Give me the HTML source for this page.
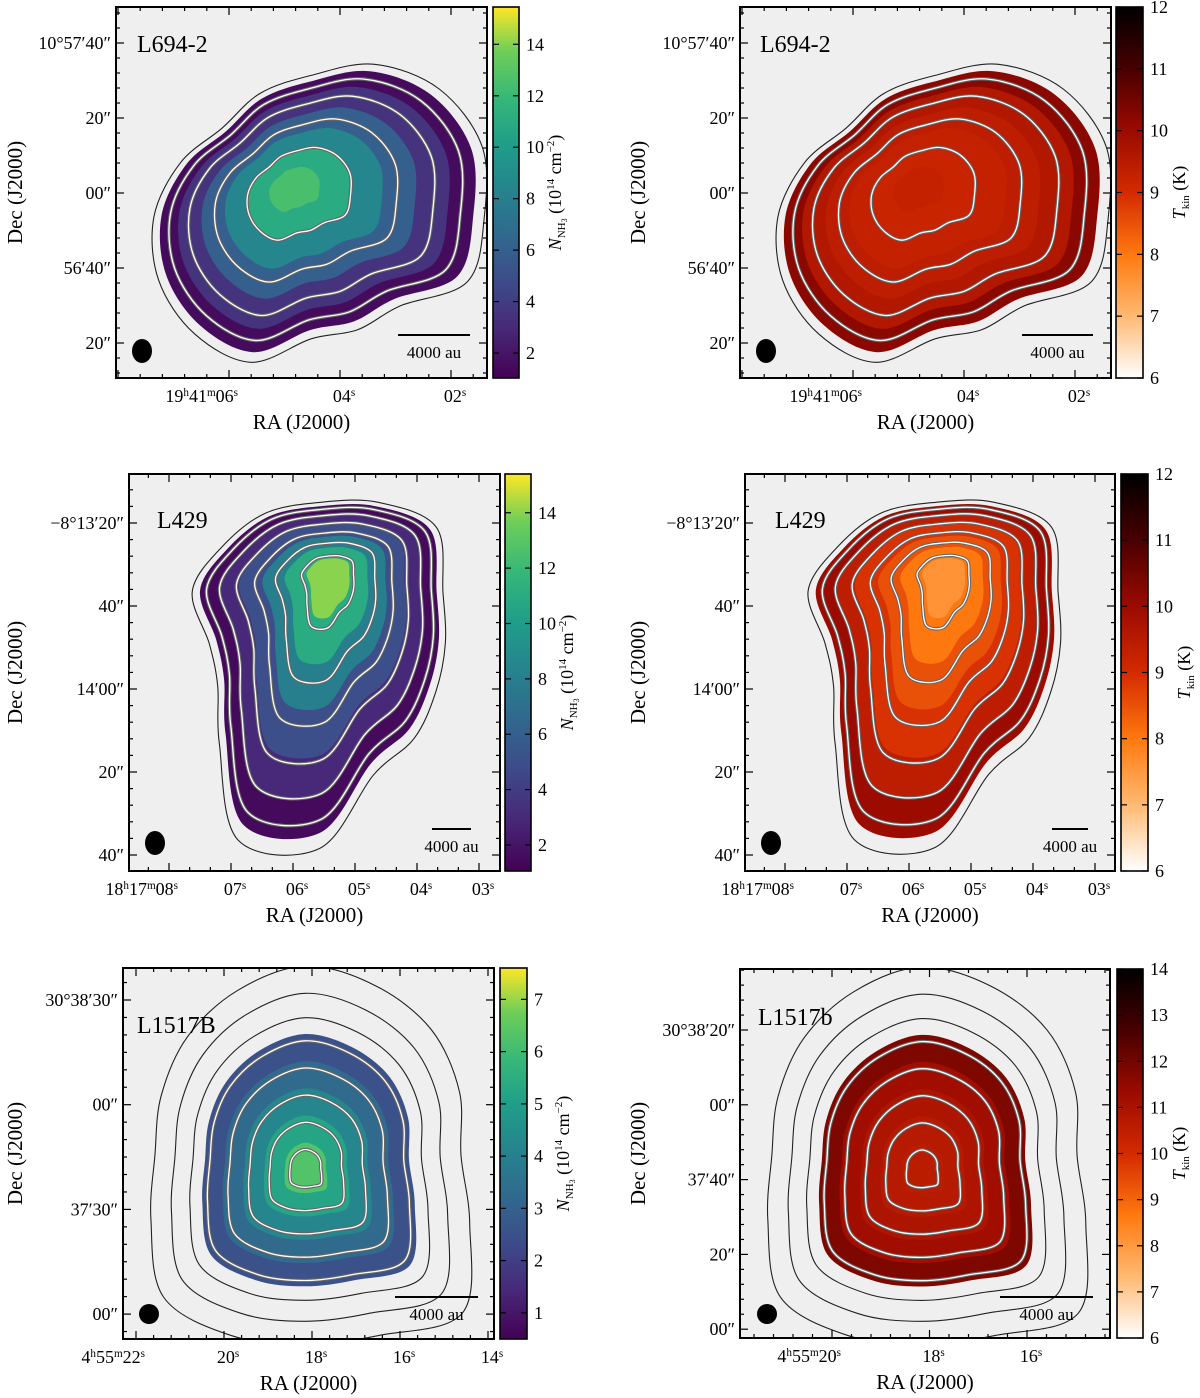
<!DOCTYPE html>
<html><head><meta charset="utf-8"><style>
html,body{margin:0;padding:0;background:#fff;}
svg{display:block;font-family:"Liberation Serif",serif;}
</style></head><body>
<svg id="fig" xmlns="http://www.w3.org/2000/svg" width="1200" height="1398" viewBox="0 0 1200 1398"></svg>
<script>
// ---------- data ----------
const l694Radii = [44,47,46,42,36,34,32,36,40,42,42,40,31,31,32,43];
const l694Center = [52.3,56.1];
const l694Peak = [46.9,48.0];
const l694NValues = [1.5,3.5,6,8.5,11,12.5];
const l694NScales = [1,0.86,0.68,0.5,0.32,0.16];
const l694TValues = [10.2,9.6,9.4,9.3,9.2,9.3];
const l694Contours = [0.93,0.78,0.58,0.33];
const l694Outer = [1.06];

const l429Radii = [32,34,42,39,36,36,35,35,28,28,36,54,52,36,34,32];
const l429Center = [51.5,44.7];
const l429Peak = [54.2,25.9];
const l429NValues = [1.5,3,5,8,11,14];
const l429NScales = [1,0.85,0.7,0.52,0.35,0.18];
const l429TValues = [10,9.4,8.9,8.5,8.0,7.6];
const l429Contours = [0.95,0.85,0.72,0.58,0.42,0.22];
const l429Outer = [1.06];

const l1517Radii = [28,30,32,33,34,32,30,28,27,30,36,35,34,35,40,32];
const l1517Center = [49.1,51.8];
const l1517Peak = [49.1,54.4];
const l1517NValues = [2.5,3.3,4.2,5.2,6.3];
const l1517NScales = [1,0.8,0.6,0.4,0.2];
const l1517TValues = [11.8,11.2,10.9,10.7,10.6];
const l1517Contours = [0.95,0.75,0.55,0.35,0.15];
const l1517Outer = [1.12,1.3,1.5];

const row1DecLabels = ["10°57′40″","20″","00″","56′40″","20″"];
const row1RaLabels = [["19","h","41","m","06","s"],["04","s"],["02","s"]];
const row2DecLabels = ["−8°13′20″","40″","14′00″","20″","40″"];
const row2RaLabels = [["18","h","17","m","08","s"],["07","s"],["06","s"],["05","s"],["04","s"],["03","s"]];
const row3LDecLabels = ["30°38′30″","00″","37′30″","00″"];
const row3LRaLabels = [["4","h","55","m","22","s"],["20","s"],["18","s"],["16","s"],["14","s"]];
const row3RDecLabels = ["30°38′20″","00″","37′40″","20″","00″"];
const row3RRaLabels = [["4","h","55","m","20","s"],["18","s"],["16","s"]];
const nTicks12 = [2,4,6,8,10,12,14];
const nTicks3 = [1,2,3,4,5,6,7];
const tTicks12 = [6,7,8,9,10,11,12];
const tTicks14 = [6,7,8,9,10,11,12,13,14];

// ---------- layout ----------
const panels = [
 {name:'l694-2-column-density',label:'L694-2',fx:116,fy:7,fw:371,fh:371,cbx:493,cbw:26,vmin:1.03,vmax:15.45,cmap:'v',
  radii:l694Radii,center:l694Center,peak:l694Peak,values:l694NValues,scales:l694NScales,cont:l694Contours,outer:l694Outer,
  dec:row1DecLabels,decY0:43,decStep:75,decMinor:5,ra:row1RaLabels,raX0:229,raStep:111,raMinor:5,cbTicks:nTicks12,
  title:[137,52],beam:[142,351,10,12],bar:[398,470,335],cbLabel:'n'},
 {name:'l694-2-kinetic-temperature',label:'L694-2',fx:740,fy:7,fw:371,fh:371,cbx:1116,cbw:27,vmin:6,vmax:12,cmap:'t',
  radii:l694Radii,center:l694Center,peak:l694Peak,values:l694TValues,scales:l694NScales,cont:l694Contours,outer:l694Outer,
  dec:row1DecLabels,decY0:43,decStep:75,decMinor:5,ra:row1RaLabels,raX0:853,raStep:111,raMinor:5,cbTicks:tTicks12,
  title:[760,52],beam:[766,351,10,12],bar:[1022,1093,335],cbLabel:'t'},
 {name:'l429-column-density',label:'L429',fx:129,fy:474,fw:371,fh:397,cbx:505,cbw:26,vmin:1.06,vmax:15.4,cmap:'v',
  radii:l429Radii,center:l429Center,peak:l429Peak,values:l429NValues,scales:l429NScales,cont:l429Contours,outer:l429Outer,
  dec:row2DecLabels,decY0:523,decStep:83,decMinor:5,ra:row2RaLabels,raX0:169,raStep:62,raMinor:3,cbTicks:nTicks12,
  title:[157,528],beam:[155,843,10,12],bar:[432,471,829],cbLabel:'n'},
 {name:'l429-kinetic-temperature',label:'L429',fx:745,fy:474,fw:370,fh:397,cbx:1121,cbw:27,vmin:6,vmax:12,cmap:'t',
  radii:l429Radii,center:l429Center,peak:l429Peak,values:l429TValues,scales:l429NScales,cont:l429Contours,outer:l429Outer,
  dec:row2DecLabels,decY0:523,decStep:83,decMinor:5,ra:row2RaLabels,raX0:785,raStep:62,raMinor:3,cbTicks:tTicks12,
  title:[775,528],beam:[771,843,10,12],bar:[1052,1088,829],cbLabel:'t'},
 {name:'l1517b-column-density',label:'L1517B',fx:123,fy:968,fw:371,fh:371,cbx:500,cbw:27,vmin:0.5,vmax:7.6,cmap:'v',
  radii:l1517Radii,center:l1517Center,peak:l1517Peak,values:l1517NValues,scales:l1517NScales,cont:l1517Contours,outer:l1517Outer,
  dec:row3LDecLabels,decY0:1000,decStep:104.7,decMinor:6,ra:row3LRaLabels,raX0:136,raStep:88,raMinor:5,cbTicks:nTicks3,
  title:[137,1033],beam:[149,1314,10,10],bar:[395,478,1297],cbLabel:'n'},
 {name:'l1517b-kinetic-temperature',label:'L1517b',fx:740,fy:969,fw:370,fh:369,cbx:1117,cbw:26,vmin:6,vmax:14,cmap:'t',
  radii:l1517Radii,center:l1517Center,peak:l1517Peak,values:l1517TValues,scales:l1517NScales,cont:l1517Contours,outer:l1517Outer,
  dec:row3RDecLabels,decY0:1030,decStep:74.8,decMinor:5,ra:row3RRaLabels,raX0:832,raStep:97.5,raMinor:5,cbTicks:tTicks14,
  title:[758,1025],beam:[767,1314,10,10],bar:[1000,1093,1297],cbLabel:'t'}
];

const viridisStops=[[0,'#440154'],[0.13,'#482878'],[0.25,'#3e4989'],[0.38,'#31688e'],[0.5,'#26828e'],[0.63,'#1f9e89'],[0.75,'#35b779'],[0.88,'#6ece58'],[1,'#fde725']];
const heatStops=[[0,'#ffffff'],[0.17,'#ffb870'],[0.33,'#ff7a10'],[0.5,'#d42a00'],[0.67,'#9a0a00'],[0.83,'#4a0000'],[1,'#000000']];
function hex(c){return [parseInt(c.slice(1,3),16),parseInt(c.slice(3,5),16),parseInt(c.slice(5,7),16)];}
function cmap(stops,t){t=Math.max(0,Math.min(1,t));for(let i=1;i<stops.length;i++){if(t<=stops[i][0]){const a=stops[i-1],b=stops[i];const f=(t-a[0])/(b[0]-a[0]);const ca=hex(a[1]),cb=hex(b[1]);return 'rgb('+ca.map((v,k)=>Math.round(v+(cb[k]-v)*f)).join(',')+')';}}return stops[stops.length-1][1];}

const NS='http://www.w3.org/2000/svg';
const svg=document.getElementById('fig');
function el(tag,attrs,parent){const e=document.createElementNS(NS,tag);for(const k in attrs)e.setAttribute(k,attrs[k]);(parent||svg).appendChild(e);return e;}

const defs=el('defs',{});
function gradient(id,stops){const g=el('linearGradient',{id:id,x1:'0',y1:'1',x2:'0',y2:'0'},defs);stops.forEach(s=>el('stop',{offset:s[0],'stop-color':s[1]},g));}
gradient('grad-viridis',viridisStops);gradient('grad-heat',heatStops);

function smoothPath(pts){const n=pts.length;let d='M'+pts[0][0].toFixed(1)+','+pts[0][1].toFixed(1);
 for(let i=0;i<n;i++){const p0=pts[(i-1+n)%n],p1=pts[i],p2=pts[(i+1)%n],p3=pts[(i+2)%n];
  const c1=[p1[0]+(p2[0]-p0[0])/6,p1[1]+(p2[1]-p0[1])/6],c2=[p2[0]-(p3[0]-p1[0])/6,p2[1]-(p3[1]-p1[1])/6];
  d+='C'+c1[0].toFixed(1)+','+c1[1].toFixed(1)+' '+c2[0].toFixed(1)+','+c2[1].toFixed(1)+' '+p2[0].toFixed(1)+','+p2[1].toFixed(1);}
 return d+'Z';}

function supText(parent,x,y,parts,anchor,size){const t=el('text',{x:x,y:y,'text-anchor':anchor,'font-size':size},parent);
 parts.forEach((p,i)=>{const s=el('tspan',{},t);if(i%2===1){s.setAttribute('font-size',size*0.62);s.setAttribute('baseline-shift','super');}s.textContent=p;});return t;}

panels.forEach((P,pi)=>{
 const g=el('g',{});
 
 
 const X=u=>P.fx+u*P.fw/100;
 const Y=v=>P.fy+v*P.fw/100;
 const clipId='clip'+pi;
 const cp=el('clipPath',{id:clipId},defs);el('rect',{x:P.fx,y:P.fy,width:P.fw,height:P.fh},cp);
 const bg=el('rect',{x:P.fx,y:P.fy,width:P.fw,height:P.fh,fill:'#efefef'},g);
 
 
 const mg=el('g',{'clip-path':'url(#'+clipId+')'},g);
 
 
 const norm=v=>(v-P.vmin)/(P.vmax-P.vmin);
 const stops=P.cmap==='v'?viridisStops:heatStops;
 function shape(s){const n=P.radii.length;const cx=P.peak[0]+(P.center[0]-P.peak[0])*s,cy=P.peak[1]+(P.center[1]-P.peak[1])*s;
  const pts=[];for(let i=0;i<n;i++){const a=i/n*2*Math.PI;pts.push([X(cx+Math.cos(a)*P.radii[i]*s),Y(cy-Math.sin(a)*P.radii[i]*s)]);}return smoothPath(pts);}
 P.values.forEach((v,i)=>{const p=el('path',{d:shape(P.scales[i]),fill:cmap(stops,norm(v))},mg);
  
  });
 P.outer.forEach((s,i)=>{const p=el('path',{d:shape(s),fill:'none',stroke:'#222','stroke-width':1.1},mg);
  
  });
 P.cont.forEach((s,i)=>{el('path',{d:shape(s),fill:'none',stroke:'#666','stroke-width':3.4},mg);
  const p=el('path',{d:shape(s),fill:'none',stroke:'#fff','stroke-width':1.3},mg);
  
  });
 const tg=el('g',{stroke:'#000','stroke-width':1.2},g);
 
 
 const bottom=P.fy+P.fh,right=P.fx+P.fw;
 for(let k=-P.decMinor;k<=P.dec.length*P.decMinor+P.decMinor;k++){const y=P.decY0+k*P.decStep/P.decMinor;if(y<=P.fy+1||y>=bottom-1)continue;
  const L=(k%P.decMinor===0)?8:4;el('line',{x1:P.fx,y1:y,x2:P.fx+L,y2:y},tg);el('line',{x1:right,y1:y,x2:right-L,y2:y},tg);}
 for(let k=-3*P.raMinor;k<=(P.ra.length+3)*P.raMinor;k++){const x=P.raX0+k*P.raStep/P.raMinor;if(x<=P.fx+1||x>=right-1)continue;
  const L=(k%P.raMinor===0)?8:4;el('line',{x1:x,y1:bottom,x2:x,y2:bottom-L},tg);el('line',{x1:x,y1:P.fy,x2:x,y2:P.fy+L},tg);}
 P.dec.forEach((lab,i)=>{const t=el('text',{x:P.fx-5,y:P.decY0+i*P.decStep+6,'text-anchor':'end','font-size':18},g);t.textContent=lab;
  
  });
 P.ra.forEach((parts,i)=>{const x=P.raX0+i*P.raStep;const t=parts.length>2?supText(g,x+9,bottom+24,parts,'end',18):supText(g,x+4,bottom+24,parts,'middle',18);
  
  });
 const fr=el('rect',{x:P.fx,y:P.fy,width:P.fw,height:P.fh,fill:'none',stroke:'#000','stroke-width':2},g);
 
 
 const xt=el('text',{x:P.fx+P.fw/2,y:bottom+51,'text-anchor':'middle','font-size':21},g);xt.textContent='RA (J2000)';
 
 
 const ytx=(P.fx<400?22:645),ytc=P.fy+P.fh/2;
 const yt=el('text',{x:ytx,y:ytc,'text-anchor':'middle','font-size':21,transform:'rotate(-90 '+ytx+' '+ytc+')'},g);yt.textContent='Dec (J2000)';
 
 
 const st=el('text',{x:P.title[0],y:P.title[1],'font-size':24},g);st.textContent=P.label;
 
 
 const b=el('ellipse',{cx:P.beam[0],cy:P.beam[1],rx:P.beam[2],ry:P.beam[3],fill:'#000'},g);
 
 
 const sb=el('line',{x1:P.bar[0],y1:P.bar[2],x2:P.bar[1],y2:P.bar[2],stroke:'#000','stroke-width':2},g);
 
 
 const sbt=el('text',{x:(P.bar[0]+P.bar[1])/2,y:P.bar[2]+23,'text-anchor':'middle','font-size':17},g);sbt.textContent='4000 au';
 
 
 const cb=el('rect',{x:P.cbx,y:P.fy,width:P.cbw,height:P.fh,fill:'url(#'+(P.cmap==='v'?'grad-viridis':'grad-heat')+')',stroke:'#000','stroke-width':1.6},g);
 
 
 const cy=v=>P.fy+P.fh-(v-P.vmin)/(P.vmax-P.vmin)*P.fh;
 P.cbTicks.forEach(v=>{const y=cy(v);
  el('line',{x1:P.cbx,y1:y,x2:P.cbx+6,y2:y,stroke:'#000','stroke-width':1.2},g);el('line',{x1:P.cbx+P.cbw,y1:y,x2:P.cbx+P.cbw-6,y2:y,stroke:'#000','stroke-width':1.2},g);
  const t=el('text',{x:P.cbx+P.cbw+7,y:y+6,'font-size':18},g);t.textContent=v;
  
  });
 const lx=P.cbx+P.cbw+42,ly=P.fy+P.fh/2;
 const lt=el('text',{x:lx,y:ly,'text-anchor':'middle','font-size':18,transform:'rotate(-90 '+lx+' '+ly+')'},g);
 
 
 if(P.cbLabel==='n'){lt.innerHTML='<tspan font-style="italic">N</tspan><tspan font-size="11" dy="4">NH</tspan><tspan font-size="8" dy="2">3</tspan><tspan dy="-6"> (10</tspan><tspan font-size="11" dy="-7">14</tspan><tspan dy="7"> cm</tspan><tspan font-size="11" dy="-7">−2</tspan><tspan dy="7">)</tspan>';}
 else{lt.innerHTML='<tspan font-style="italic">T</tspan><tspan font-size="11" dy="4">kin</tspan><tspan dy="-4"> (K)</tspan>';}
});
</script>
</body></html>
